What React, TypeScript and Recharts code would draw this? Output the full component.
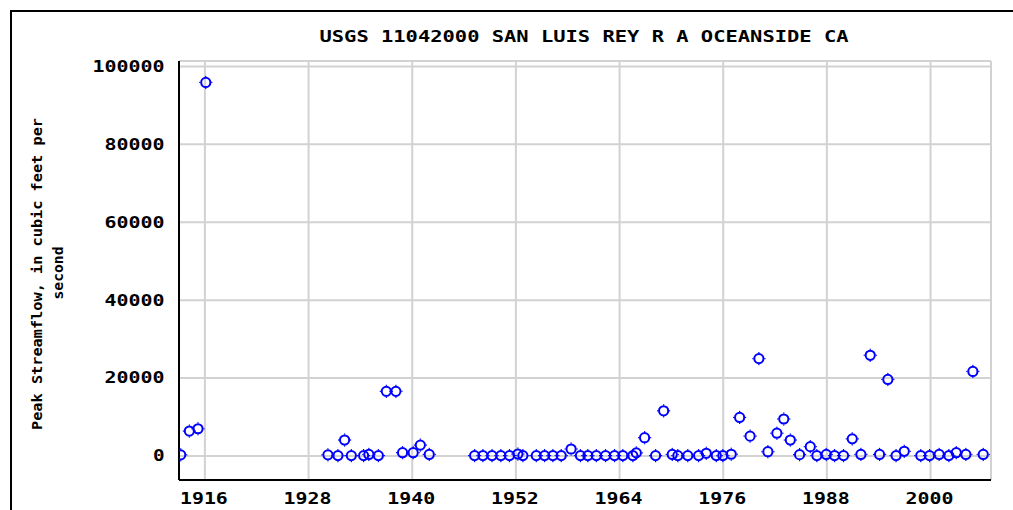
import React from 'react';
import { ScatterChart, Scatter, XAxis, YAxis, CartesianGrid } from 'recharts';

const chartTitle = 'USGS 11042000 SAN LUIS REY R A OCEANSIDE CA';
const yLabelLines = ['Peak Streamflow, in cubic feet per', 'second'];

const xMajorTicks = [1916, 1928, 1940, 1952, 1964, 1976, 1988, 2000];
const xMinorTicks = [1914, 1921, 1926, 1933, 1938, 1945, 1950, 1957, 1962, 1969, 1974, 1981, 1986, 1993, 1998, 2005];
const yTicks = [0, 20000, 40000, 60000, 80000, 100000];
const xDomain: [number, number] = [1913, 2007];
const yDomain: [number, number] = [-6160, 101400];

const peakYears = [
  1913.2, 1914.2, 1915.2, 1916.1,
  1930.24, 1931.4, 1932.17, 1932.95, 1934.37, 1934.98, 1936.08, 1937.0, 1938.11, 1938.88, 1940.11, 1940.94, 1941.97,
  1947.22, 1948.18, 1949.24, 1950.26, 1951.26, 1952.23, 1952.81, 1954.36, 1955.32, 1956.28, 1957.25, 1958.39, 1959.47,
  1960.33, 1961.31, 1962.38, 1963.42, 1964.38, 1965.54, 1965.94, 1966.9, 1968.17, 1969.1,
  1970.1, 1970.75, 1971.9, 1973.15, 1974.04, 1975.2, 1975.96, 1976.93, 1977.9, 1979.11,
  1980.13, 1981.17, 1982.21, 1983.01, 1983.77, 1984.84, 1986.08, 1986.84, 1987.93, 1988.89,
  1989.93, 1990.94, 1991.94, 1993.02, 1994.1, 1995.06, 1996.01, 1996.96, 1998.87, 1999.89,
  2001.0, 2002.12, 2002.98, 2004.09, 2004.9, 2006.1,
];
const peakFlows = [
  300, 6400, 7000, 95900,
  300, 100, 4100, 100, 100, 400, 100, 16600, 16600, 850, 850, 2800, 400,
  100, 100, 100, 100, 100, 500, 100, 100, 100, 100, 100, 1800, 100,
  100, 100, 100, 100, 100, 100, 800, 4700, 100, 11600,
  400, 100, 100, 100, 700, 100, 100, 450, 9900, 5100,
  25000, 1100, 5850, 9500, 4100, 350, 2400, 100, 400, 100,
  100, 4400, 400, 25850, 400, 19650, 100, 1200, 100, 100,
  400, 100, 850, 400, 21700, 400,
];

const data = peakYears.map((year, i) => ({ year, flow: peakFlows[i] }));

const FONT = "'DejaVu Sans Mono', 'Liberation Mono', monospace";
const CHAR_W = 12.1;

const XTick = (props: any) => {
  const { x, y, payload } = props;
  const s = String(payload.value);
  return (
    <text x={x - 1} y={y + 24} textAnchor="middle" fontFamily={FONT} fontSize={15} fontWeight="bold" fill="#000"
      textLength={s.length * CHAR_W - 0.5} lengthAdjust="spacingAndGlyphs">{s}</text>
  );
};

const YTick = (props: any) => {
  const { x, y, payload } = props;
  const s = String(payload.value);
  return (
    <text x={x - 14.5} y={y + 5.4} textAnchor="end" fontFamily={FONT} fontSize={15} fontWeight="bold" fill="#000"
      textLength={s.length * CHAR_W - 0.5} lengthAdjust="spacingAndGlyphs">{s}</text>
  );
};

const Ring = (props: any) => {
  const { cx, cy } = props;
  if (cx == null || cy == null) return null;
  const c = '#0000ff';
  return (
    <g>
      <circle cx={cx} cy={cy} r={4.6} fill="none" stroke={c} strokeWidth={2} />
      <rect x={cx - 0.6} y={cy - 6.6} width={1.2} height={1.2} fill={c} />
      <rect x={cx - 0.6} y={cy + 5.4} width={1.2} height={1.2} fill={c} />
      <rect x={cx - 6.6} y={cy - 0.6} width={1.2} height={1.2} fill={c} />
      <rect x={cx + 5.4} y={cy - 0.6} width={1.2} height={1.2} fill={c} />
    </g>
  );
};

export default function App() {
  return (
    <div style={{ position: 'absolute', left: 0, top: 0, width: 1013, height: 510, overflow: 'hidden', background: '#fff' }}>
      <div style={{ position: 'absolute', left: 10, top: 10, width: 1100, height: 600, border: '2px solid #000', boxSizing: 'border-box' }} />
      <div style={{ position: 'absolute', left: 0, top: 0 }}>
        <ScatterChart width={1013} height={510} margin={{ top: 61, right: 22, bottom: 0, left: 0 }}>
          <CartesianGrid xAxisId="major" yAxisId="left" stroke="#d2d2d2" strokeWidth={2} />
          <XAxis xAxisId="major" type="number" dataKey="year" domain={xDomain} ticks={xMajorTicks} interval={0}
            allowDataOverflow orientation="bottom" height={30} tickSize={0} tickMargin={0} tickLine={false}
            axisLine={{ stroke: '#000', strokeWidth: 2 }} tick={<XTick />} />
          <XAxis xAxisId="minorBottom" type="number" domain={xDomain} ticks={xMinorTicks} interval={0}
            allowDataOverflow orientation="bottom" mirror height={0} tickSize={4} tick={false}
            tickLine={{ stroke: '#000', strokeWidth: 1.5 }} axisLine={false} />
          <XAxis xAxisId="minorTop" type="number" domain={xDomain} ticks={xMinorTicks} interval={0}
            allowDataOverflow orientation="top" mirror height={0} tickSize={4} tick={false}
            tickLine={{ stroke: '#000', strokeWidth: 1.5 }} axisLine={{ stroke: '#222', strokeWidth: 1.5 }} />
          <YAxis yAxisId="left" type="number" dataKey="flow" domain={yDomain} ticks={yTicks} interval={0}
            allowDataOverflow width={179} tickSize={0} tickMargin={0} tickLine={false}
            axisLine={{ stroke: '#000', strokeWidth: 2 }} tick={<YTick />} />
          <YAxis yAxisId="right" type="number" orientation="right" mirror width={0} domain={yDomain} ticks={yTicks}
            allowDataOverflow tick={false} tickLine={false} axisLine={{ stroke: '#222', strokeWidth: 2 }} />
          <Scatter xAxisId="major" yAxisId="left" data={data} shape={<Ring />} isAnimationActive={false} />
          <text x={584} y={42} textAnchor="middle" fontFamily={FONT} fontSize={15} fontWeight="bold" fill="#000"
            textLength={529} lengthAdjust="spacingAndGlyphs">{chartTitle}</text>
          <text x={42} y={274} transform="rotate(-90 42 274)" textAnchor="middle" fontFamily={FONT} fontSize={14.5}
            fontWeight="bold" fill="#000" textLength={312} lengthAdjust="spacingAndGlyphs">{yLabelLines[0]}</text>
          <text x={63} y={273} transform="rotate(-90 63 273)" textAnchor="middle" fontFamily={FONT} fontSize={14.5}
            fontWeight="bold" fill="#000" textLength={53} lengthAdjust="spacingAndGlyphs">{yLabelLines[1]}</text>
        </ScatterChart>
      </div>
    </div>
  );
}
